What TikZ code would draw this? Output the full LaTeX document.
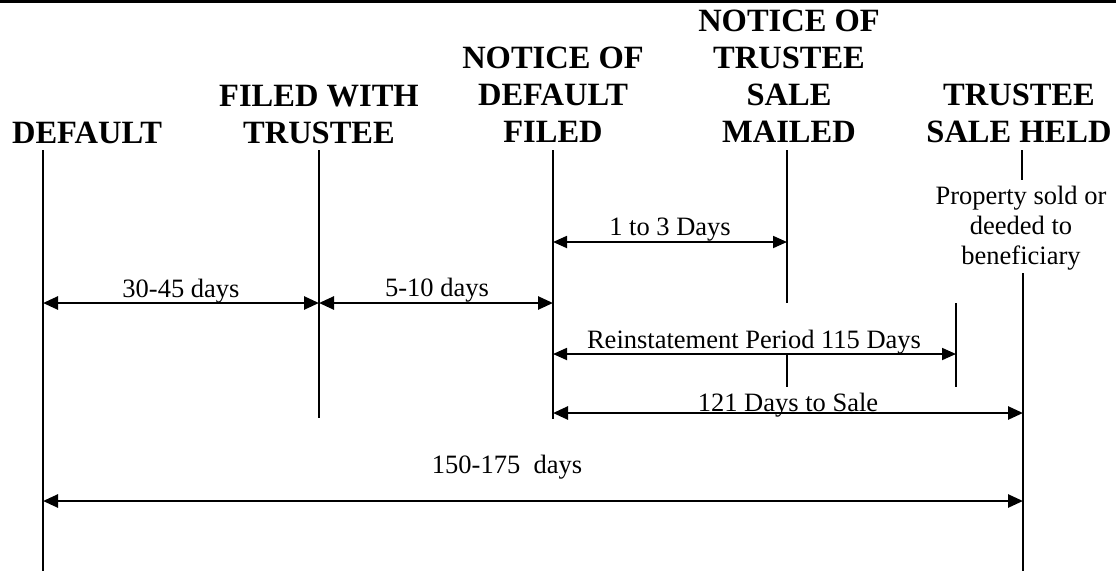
\documentclass[tikz,border=0pt]{standalone}
\usepackage{fontspec}
\setmainfont{Liberation Serif}
\usetikzlibrary{arrows.meta}
\begin{document}
\begin{tikzpicture}[x=1pt,y=-1pt,
  head/.style={font=\fontsize{32.5}{37}\selectfont\bfseries, align=center, anchor=base, inner sep=0pt},
  lab/.style={font=\fontsize{26.5}{30}\selectfont, align=center, anchor=base, inner sep=0pt},
  vline/.style={line width=2.7pt},
  thinv/.style={line width=2.2pt},
  span/.style={line width=2.6pt, {Triangle[length=15pt,width=13pt]}-{Triangle[length=15pt,width=13pt]}},
  spanthin/.style={line width=1.8pt, {Triangle[length=14pt,width=12pt]}-{Triangle[length=14pt,width=12pt]}}
]
\useasboundingbox (0,0) rectangle (1116,571);
\fill[white] (0,0) rectangle (1116,571);
% top rule
\coordinate (tl) at (0,1.5);
\coordinate (tr) at (1116,1.5);
\draw[line width=3.2pt] (tl) -- (tr);

% headings (anchored at the baseline of their last line)
\node[head] (hdef) at (87,143) {DEFAULT};
\node[head] (hfil) at (319,143) {FILED WITH\\TRUSTEE};
\node[head] (hnod) at (553,142) {NOTICE OF\\DEFAULT\\FILED};
\node[head] (hnts) at (789,142) {NOTICE OF\\TRUSTEE\\SALE\\MAILED};
\node[head] (hsal) at (1019,142) {TRUSTEE\\SALE HELD};

% vertical line end points
\coordinate (a0) at (43,150);   \coordinate (a1) at (43,571);
\coordinate (b0) at (319,150);  \coordinate (b1) at (319,418);
\coordinate (c0) at (553,150);  \coordinate (c1) at (553,419);
\coordinate (m0) at (787,150);  \coordinate (m1) at (787,303);
\coordinate (m2) at (787,355);  \coordinate (m3) at (787,387);
\coordinate (r0) at (956,303);  \coordinate (r1) at (956,387);
\coordinate (s0) at (1022,150); \coordinate (s1) at (1022,180);
\coordinate (s2) at (1023,273); \coordinate (s3) at (1023,571);

\draw[vline] (a0) -- (a1);
\draw[vline] (b0) -- (b1);
\draw[vline] (c0) -- (c1);
\draw[vline] (m0) -- (m1);
\draw[thinv] (m2) -- (m3);
\draw[thinv] (r0) -- (r1);
\draw[thinv] (s0) -- (s1);
\draw[vline] (s2) -- (s3);

% property note
\node[lab] (prop) at (1021,264) {Property sold or\\deeded to\\beneficiary};

% arrow end points
\coordinate (p1a) at (43,303);  \coordinate (p1b) at (319,303);
\coordinate (p2a) at (319,303); \coordinate (p2b) at (553,303);
\coordinate (p3a) at (553,242); \coordinate (p3b) at (787,242);
\coordinate (p4a) at (553,354); \coordinate (p4b) at (956,354);
\coordinate (p5a) at (553,413); \coordinate (p5b) at (1023,413);
\coordinate (p6a) at (43,501);  \coordinate (p6b) at (1023,501);

\draw[span] (p1a) -- (p1b);
\draw[span] (p2a) -- (p2b);
\draw[spanthin] (p3a) -- (p3b);
\draw[spanthin] (p4a) -- (p4b);
\draw[span] (p5a) -- (p5b);
\draw[span] (p6a) -- (p6b);

% labels
\node[lab] (l1) at (181,297) {30-45 days};
\node[lab] (l2) at (437,296) {5-10 days};
\node[lab] (l3) at (670,235) {1 to 3 Days};
\node[lab] (l4) at (754,348) {Reinstatement Period 115 Days};
\node[lab] (l5) at (788,411) {121 Days to Sale};
\node[lab] (l6) at (507,473) {150-175\ \ days};
\end{tikzpicture}
\end{document}
